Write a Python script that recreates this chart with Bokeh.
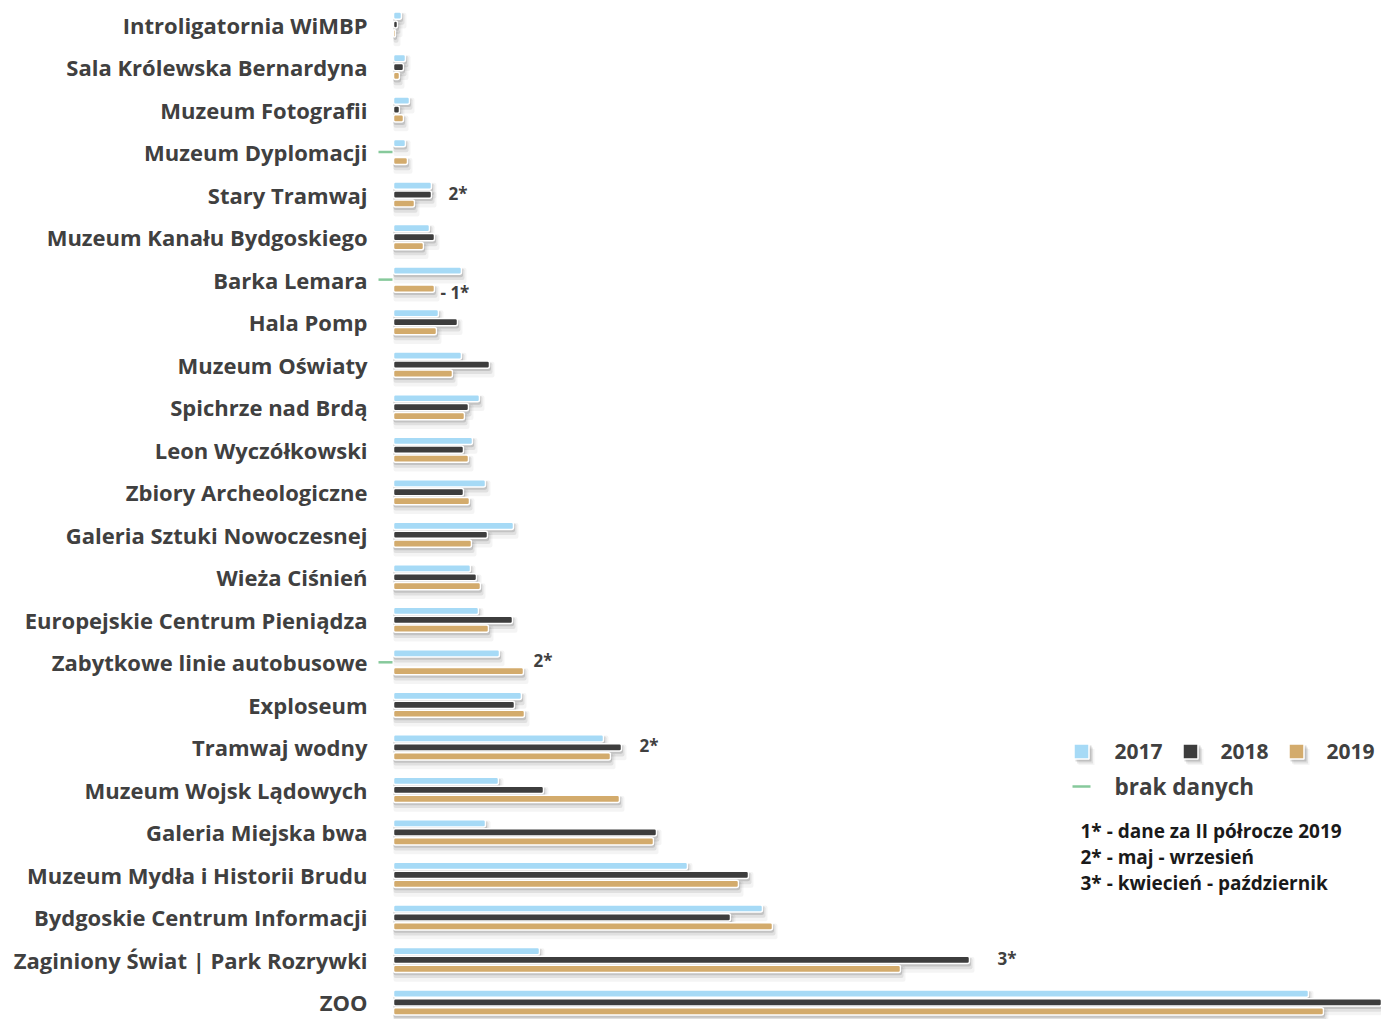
from bokeh.plotting import figure
from bokeh.models import Range1d
from bokeh.core.properties import value
from bokeh.embed import file_html
from bokeh.resources import INLINE

# ---------------- data ----------------
categories = [
    "Introligatornia WiMBP", "Sala Królewska Bernardyna", "Muzeum Fotografii",
    "Muzeum Dyplomacji", "Stary Tramwaj", "Muzeum Kanału Bydgoskiego",
    "Barka Lemara", "Hala Pomp", "Muzeum Oświaty", "Spichrze nad Brdą",
    "Leon Wyczółkowski", "Zbiory Archeologiczne", "Galeria Sztuki Nowoczesnej",
    "Wieża Ciśnień", "Europejskie Centrum Pieniądza", "Zabytkowe linie autobusowe",
    "Exploseum", "Tramwaj wodny", "Muzeum Wojsk Lądowych", "Galeria Miejska bwa",
    "Muzeum Mydła i Historii Brudu", "Bydgoskie Centrum Informacji",
    "Zaginiony Świat | Park Rozrywki", "ZOO",
]
v2017 = [8, 12, 16, 12, 38, 36, 68, 45, 68, 86, 79, 92, 120, 77, 85, 106,
         128, 210, 105, 92, 294, 369, 146, 915]
v2018 = [4, 10, 6, None, 38, 41, None, 64, 96, 75, 70, 70, 94, 83, 119, None,
         121, 228, 150, 263, 355, 337, 576, 1010]
v2019 = [2, 6, 10, 14, 21, 30, 41, 43, 59, 71, 75, 76, 78, 87, 95, 130,
         131, 217, 226, 260, 345, 379, 507, 930]
series_names = ["2017", "2018", "2019"]
series_values = [v2017, v2018, v2019]

note_cats = ["Stary Tramwaj", "Barka Lemara", "Zabytkowe linie autobusowe",
             "Tramwaj wodny", "Zaginiony Świat | Park Rozrywki"]
note_texts = ["2*", "- 1*", "2*", "2*", "3*"]
note_series = [None, 2, None, None, None]   # bar the note belongs to (None = longest)
footnotes = ["1* - dane za II półrocze 2019", "2* - maj - wrzesień",
             "3* - kwiecień - październik"]
missing_label = "brak danych"

# ---------------- style ----------------
colors = ["#a6daf6", "#3d3d3d", "#d3ab6c"]
green = "#86c99b"
text_col = "#404040"
FONT = "Open Sans"
W, H = 1381, 1019
ROW = 42.52          # px per category row
TOP = 24             # px of first row centre
X0 = 393             # px of bar origin inside the figure
offsets = [-0.21, 0.0, 0.21]
bar_h = 0.17

def X(px):            # figure px -> data x
    return px - X0

def Y(py):            # figure px -> data y (rows)
    return (py - TOP) / ROW

p = figure(width=W, height=H, output_backend="svg", toolbar_location=None,
           x_range=Range1d(-X0, W - X0), y_range=Range1d(Y(H), Y(0)),
           min_border=0, outline_line_color=None)
p.axis.visible = False
p.grid.visible = False
p.background_fill_color = "white"
p.border_fill_color = "white"

idx = list(range(len(categories)))

# soft shadows
for s, vals in enumerate(series_values):
    ys = [i + offsets[s] for i, v in zip(idx, vals) if v is not None]
    xs = [v for v in vals if v is not None]
    for dx, dy, dh, a in [(1.5, 2.0, 0.04, 0.13), (3, 3.5, 0.10, 0.08),
                          (5, 5, 0.20, 0.045)]:
        p.hbar(y=[y + dy / ROW for y in ys], left=0, right=[x + dx for x in xs],
               height=bar_h + dh, fill_color="black", fill_alpha=a, line_color=None,
               border_radius=2)

# bars
for s, vals in enumerate(series_values):
    ys = [i + offsets[s] for i, v in zip(idx, vals) if v is not None]
    xs = [v for v in vals if v is not None]
    p.hbar(y=ys, left=0, right=xs, height=bar_h, fill_color=colors[s],
           line_color="white", line_width=1.5, border_radius=2)

# missing data dashes
for s, vals in enumerate(series_values):
    ys = [i + offsets[s] for i, v in zip(idx, vals) if v is None]
    if ys:
        p.segment(x0=[-15] * len(ys), x1=[-1] * len(ys), y0=ys, y1=ys,
                  line_color=green, line_width=2.5)

# category labels
p.text(x=[0] * len(categories), y=idx, text=categories, x_offset=-26,
       text_align="right", text_baseline="middle", text_font=value(FONT),
       text_font_size="22px", text_font_style="bold", text_color=text_col)

# notes next to bars
note_gap = [17, 6, 10, 18, 28]
note_dy = [-1, 0, -2, -2, -1]
nx, ny = [], []
for c, sser, g, d in zip(note_cats, note_series, note_gap, note_dy):
    i = categories.index(c)
    if sser is None:
        m = max(v for v in (v2017[i], v2018[i], v2019[i]) if v is not None)
        off = 0.0
    else:
        m = series_values[sser][i]
        off = offsets[sser] + 4 / ROW
    nx.append(m + g)
    ny.append(i + off + d / ROW)
p.text(x=nx, y=ny, text=note_texts, text_align="left", text_baseline="middle",
       text_font=value(FONT), text_font_size="17px", text_font_style="bold",
       text_color=text_col)

# legend
leg_sq_x = [1081, 1190, 1296]
leg_tx_x = [1114, 1220, 1326]
leg_y = 751
for dx, dy, a in [(2, 2, 0.15), (3.5, 4, 0.08), (5, 5.5, 0.04)]:
    p.scatter(x=[X(x + dx) for x in leg_sq_x], y=[Y(leg_y + dy)] * 3, marker="square",
              size=16, fill_color="black", fill_alpha=a, line_color=None)
p.scatter(x=[X(x) for x in leg_sq_x], y=[Y(leg_y)] * 3, marker="square", size=15,
          fill_color=colors, line_color="white", line_width=1.5)
p.text(x=[X(x) for x in leg_tx_x], y=[Y(leg_y)] * 3, text=series_names,
       text_align="left", text_baseline="middle", text_font=value(FONT),
       text_font_size="21px", text_font_style="bold", text_color=text_col)
p.segment(x0=[X(1072)], x1=[X(1090)], y0=[Y(786)], y1=[Y(786)],
          line_color=green, line_width=2.5)
p.text(x=[X(1114)], y=[Y(786)], text=[missing_label], text_align="left",
       text_baseline="middle", text_font=value(FONT), text_font_size="22.5px",
       text_font_style="bold", text_color=text_col)
p.text(x=[X(1080)] * 3, y=[Y(830), Y(856), Y(882)], text=footnotes,
       text_align="left", text_baseline="middle", text_font=value(FONT),
       text_font_size="19px", text_font_style="bold", text_color="#1a1a1a")

open("out.html", "w").write(file_html(p, INLINE))
